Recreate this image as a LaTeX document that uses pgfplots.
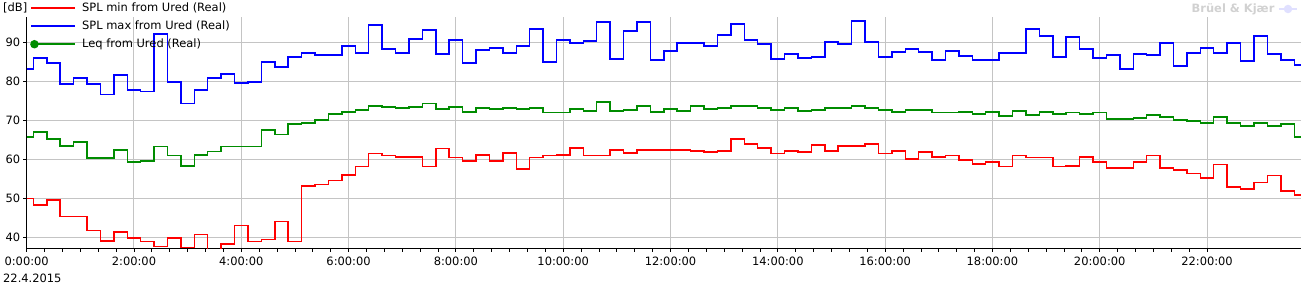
\documentclass[border=0pt]{standalone}
\usepackage{fontspec}
\setmainfont{DejaVu Sans}
\usepackage{pgfplots}
\pgfplotsset{compat=1.18}
\usepackage{pgfplotstable}
\definecolor{gridgray}{HTML}{C4C4C4}
\definecolor{leqgreen}{HTML}{008C00}
\definecolor{minred}{HTML}{FF0000}
\definecolor{maxblue}{HTML}{0000FF}
\pgfplotstableread{
t     mn    mx    leq
0.00  49.9  83.1  65.7
0.25  48.3  85.9  67.0
0.50  49.6  84.6  65.2
0.75  45.3  79.3  63.4
1.00  45.3  80.8  64.4
1.25  41.7  79.3  60.3
1.50  39.1  76.5  60.3
1.75  41.4  81.6  62.4
2.00  39.9  77.7  59.3
2.25  38.9  77.4  59.6
2.50  37.7  92.0  63.2
2.75  39.9  79.8  60.9
3.00  37.4  74.2  58.3
3.25  40.7  77.7  61.1
3.50  35.0  80.8  62.0
3.75  38.3  81.8  63.2
4.00  43.0  79.5  63.2
4.25  38.9  79.8  63.2
4.50  39.4  84.9  67.5
4.75  44.0  83.6  66.3
5.00  38.9  86.2  69.0
5.25  53.2  87.2  69.3
5.50  53.5  86.7  70.0
5.75  54.5  86.7  71.6
6.00  56.0  89.0  72.1
6.25  58.1  87.2  72.6
6.50  61.4  94.3  73.6
6.75  60.9  88.2  73.4
7.00  60.6  87.2  73.1
7.25  60.6  90.8  73.4
7.50  58.1  93.1  74.2
7.75  62.7  86.9  72.9
8.00  60.4  90.5  73.4
8.25  59.6  84.6  72.1
8.50  61.1  88.0  73.1
8.75  59.6  88.5  72.9
9.00  61.6  87.2  73.1
9.25  57.5  89.0  72.9
9.50  60.4  93.3  73.1
9.75  60.9  84.9  71.9
10.00 61.1  90.5  71.9
10.25 62.9  89.7  72.9
10.50 60.9  90.3  72.4
10.75 60.9  95.1  74.7
11.00 62.4  85.7  72.4
11.25 61.6  92.8  72.6
11.50 62.4  95.1  73.6
11.75 62.4  85.4  72.1
12.00 62.4  87.7  72.9
12.25 62.4  89.7  72.4
12.50 62.1  89.7  73.6
12.75 61.9  89.0  72.9
13.00 62.1  91.8  73.1
13.25 65.2  94.6  73.6
13.50 63.9  90.5  73.6
13.75 62.9  89.5  73.1
14.00 61.4  85.7  72.6
14.25 62.1  86.9  73.1
14.50 61.9  85.9  72.4
14.75 63.7  86.2  72.6
15.00 62.1  90.0  73.1
15.25 63.4  89.5  73.1
15.50 63.4  95.4  73.6
15.75 63.9  90.0  73.1
16.00 61.4  86.2  72.6
16.25 62.1  87.4  72.1
16.50 60.1  88.2  72.6
16.75 61.9  87.4  72.6
17.00 60.6  85.4  71.9
17.25 60.9  87.7  71.9
17.50 59.8  86.4  72.1
17.75 58.8  85.4  71.6
18.00 59.3  85.4  72.1
18.25 58.1  87.2  71.1
18.50 60.9  87.2  72.4
18.75 60.4  93.3  71.3
19.00 60.4  91.5  72.1
19.25 58.1  86.2  71.6
19.50 58.3  91.3  71.9
19.75 60.6  88.2  71.6
20.00 59.3  85.9  71.9
20.25 57.8  86.7  70.3
20.50 57.8  83.1  70.3
20.75 59.3  86.9  70.6
21.00 60.9  86.7  71.3
21.25 57.8  89.7  70.8
21.50 57.3  83.9  70.0
21.75 56.3  87.2  69.8
22.00 55.2  88.5  69.3
22.25 58.6  87.2  70.8
22.50 52.9  89.7  69.3
22.75 52.4  85.1  68.5
23.00 54.0  91.5  69.3
23.25 55.8  86.9  68.5
23.50 51.9  85.4  69.0
23.75 50.9  84.1  65.7
}\datatable
\begin{document}
\begin{tikzpicture}[font=\fontsize{8.6pt}{10pt}\selectfont]
\useasboundingbox (-20.0pt,-27.5pt) rectangle (959.5pt,186.25pt);
\begin{axis}[
  scale only axis, width=955.7pt, height=173.5pt,
  at={(0pt,0pt)}, anchor=south west,
  xmin=0, xmax=23.75, ymin=37.2, ymax=96.4,
  axis x line=bottom, axis y line=left,
  axis line style={-, black, line width=0.8pt},
  xtick={0,2,...,22},
  xticklabels={0:00:00,2:00:00,4:00:00,6:00:00,8:00:00,10:00:00,12:00:00,14:00:00,16:00:00,18:00:00,20:00:00,22:00:00},
  minor x tick num=5,
  ytick={40,50,60,70,80,90},
  grid=major,
  major grid style={gridgray, line width=0.75pt},
  tick align=outside,
  major tick length=2.6pt, minor tick length=2.4pt,
  tick style={black, line width=0.6pt},
  /pgf/number format/assume math mode=true,
  ticklabel style={font=\fontsize{8.6pt}{10pt}\selectfont},
  xticklabel style={anchor=north, inner sep=0pt, yshift=-3.5pt},
  yticklabel style={anchor=east, inner sep=0pt, xshift=-2pt},
  legend cell align=left,
  legend style={at={(axis description cs:0.0026,1.065)}, anchor=north west,
    draw=none, fill=none, inner sep=0pt, row sep=4.5pt,
    font=\fontsize{8.6pt}{10pt}\selectfont,
    nodes={inner sep=0pt, text height=7pt, text depth=2pt},
    /tikz/every odd column/.append style={column sep=4.5pt}},
]
\addplot[const plot mark mid, minred, line width=1.1pt, mark=none,
  legend image code/.code={\draw[minred, line width=1.1pt] (0pt,0pt) -- (33pt,0pt);}]
  table[x=t, y=mn] {\datatable};
\addlegendentry{SPL min from Ured (Real)}
\addplot[const plot mark mid, maxblue, line width=1.1pt, mark=none,
  legend image code/.code={\draw[maxblue, line width=1.1pt] (0pt,0pt) -- (33pt,0pt);}]
  table[x=t, y=mx] {\datatable};
\addlegendentry{SPL max from Ured (Real)}
\addplot[const plot mark mid, leqgreen, line width=1.1pt, mark=none,
  legend image code/.code={\draw[leqgreen, line width=1.1pt] (0pt,0pt) -- (33pt,0pt);
    \fill[leqgreen] (2.3pt,0pt) circle (2.6pt);}]
  table[x=t, y=leq] {\datatable};
\addlegendentry{Leq from Ured (Real)}
\end{axis}
\node[anchor=west, inner sep=0pt] at (-17.8pt,180.2pt) {[dB]};
\node[anchor=west, inner sep=0pt] at (-17.8pt,-22.3pt) {22.4.2015};
\node[anchor=east, inner sep=0pt, text=black!18, font=\bfseries\fontsize{8.6pt}{10pt}\selectfont] at (936pt,179.5pt) {Brüel \& Kjær};
\fill[blue!12] (946pt,179.5pt) circle (3.2pt);
\draw[blue!12, line width=1pt] (939pt,179.5pt) -- (953pt,179.5pt);
\end{tikzpicture}
\end{document}
